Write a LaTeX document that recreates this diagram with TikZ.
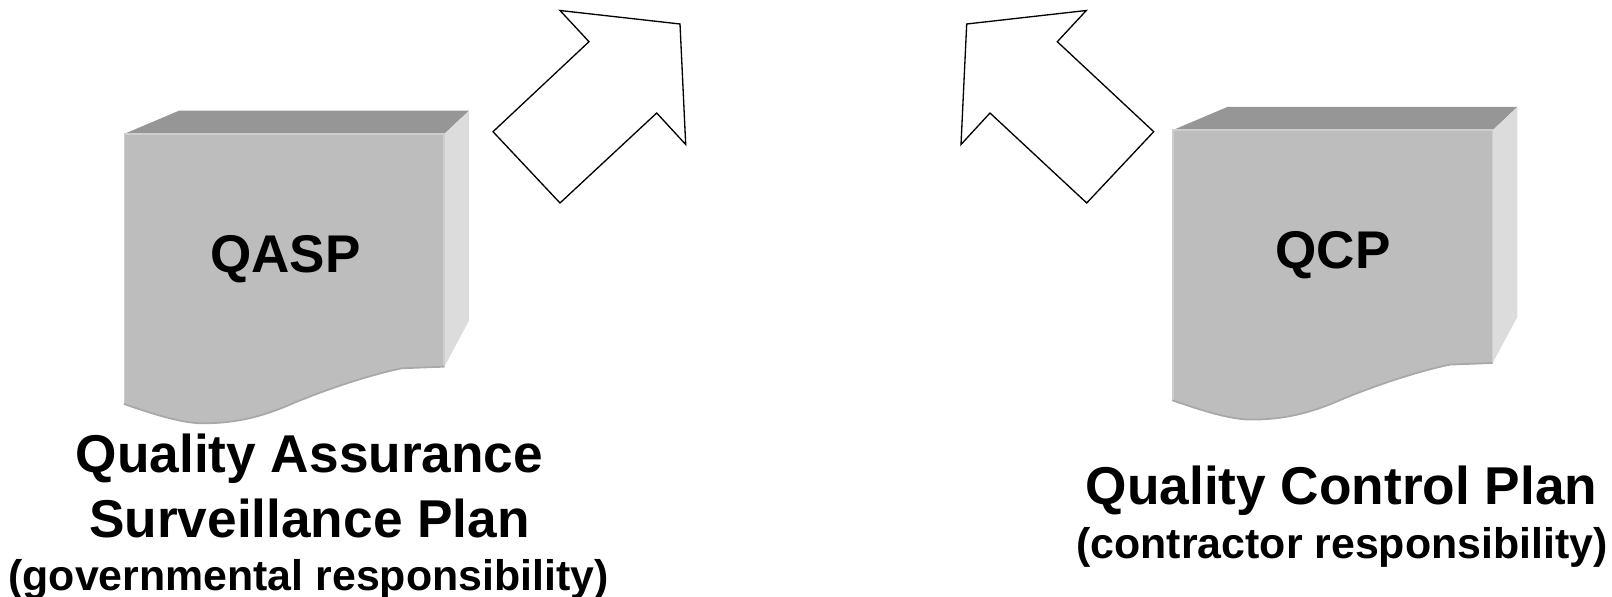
\documentclass[tikz,border=0pt]{standalone}
\usepackage{fontspec}
\setmainfont{Liberation Sans}
\usepackage{xcolor}
\definecolor{docfront}{RGB}{189,189,189}
\definecolor{doctop}{RGB}{150,150,150}
\definecolor{docside}{RGB}{220,220,220}
\definecolor{docedge}{RGB}{168,168,168}
\definecolor{docglow}{RGB}{206,206,206}
\tikzset{
    docpage/.pic={
        \fill[doctop] (124,134) -- (179,110.7) -- (469,110.7) -- (444.3,134) -- cycle;
        \fill[docside] (444.3,134) -- (469,110.7) -- (469,320.7) -- (444.3,366.7) -- cycle;
        \fill[docfront] (124,134) -- (444.3,134) -- (444.3,366.7) -- (401.7,368.3)
            .. controls (370,375) and (330,388) .. (293,403.3)
            .. controls (262,417) and (235,423.5) .. (201.7,423.3)
            .. controls (180,423) and (150,413) .. (124,404) -- cycle;
        \draw[docglow,line width=1pt] (124.5,404) -- (124.5,134) -- (444.3,134) -- (444.3,366.7);
        \draw[docedge,line width=1pt] (444.3,366.7) -- (401.7,368.3)
            .. controls (370,375) and (330,388) .. (293,403.3)
            .. controls (262,417) and (235,423.5) .. (201.7,423.3)
            .. controls (180,423) and (150,413) .. (124,404);
    },
    blockarrow/.style={draw=black,fill=white,line width=0.75pt},
    shortname/.style={font=\fontsize{30.2}{34}\selectfont\bfseries,anchor=base,inner sep=0pt},
    planname/.style={font=\fontsize{30.3}{36.6}\selectfont\bfseries,align=center,inner sep=0pt},
    owner/.style={font=\fontsize{24.4}{27}\selectfont\bfseries,anchor=base,inner sep=0pt}
}
\begin{document}
\begin{tikzpicture}[x=0.02cm,y=-0.02cm]
        \useasboundingbox (0,0) rectangle (1612,597);

        % QASP
        \pic at (0,0) {docpage};
        \node[shortname] (qasp) at (285.5,273) {QASP};
        \node[planname] (qaspplan) at (309.5,486) {Quality Assurance\\Surveillance Plan};
        \node[owner] (qaspowner) at (308.5,590) {(governmental responsibility)};

        % QCP
        \pic at (1048.3,-3.7) {docpage};
        \node[shortname] (qcp) at (1333,269) {QCP};
        \node[planname] (qcpplan) at (1341.5,491) {Quality Control Plan};
        \node[owner] (qcpowner) at (1342,558) {(contractor responsibility)};

        % Arrows
        \draw[blockarrow] (560,10.5) -- (680,24) -- (685.7,144.5) -- (656.7,113) -- (560,203) -- (493,131.7) -- (589,41.7) -- cycle;
        \draw[blockarrow] (1086.3,10.5) -- (966.7,24) -- (961,144.5) -- (990,113) -- (1086.7,203) -- (1153.7,131.7) -- (1057.3,41.7) -- cycle;
    \end{tikzpicture}
\end{document}
